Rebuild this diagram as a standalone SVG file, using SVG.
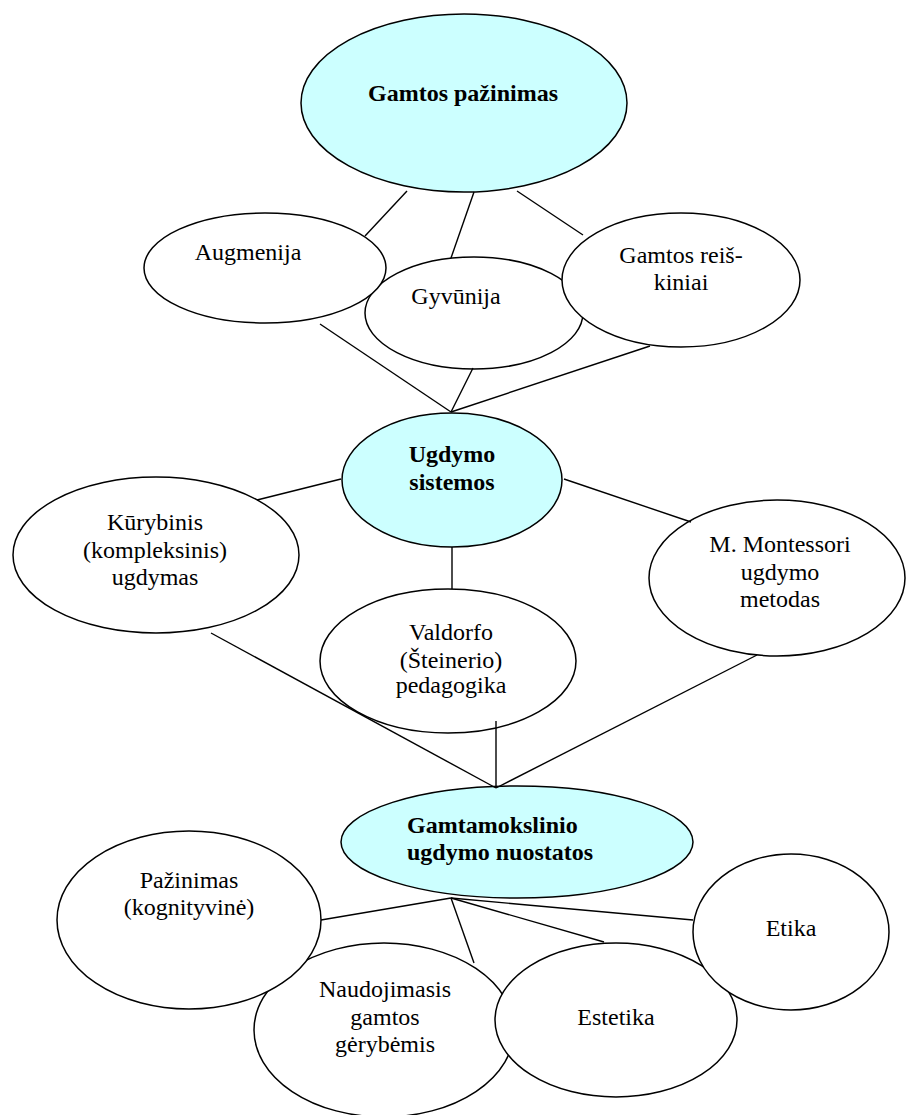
<svg xmlns="http://www.w3.org/2000/svg" width="906" height="1115" viewBox="0 0 906 1115">
<style>
.n{fill:#ffffff;stroke:#000;stroke-width:1.5}
.h{fill:#ccffff;stroke:#000;stroke-width:1.5}
.t{font-family:"Liberation Serif","Times New Roman",serif;font-size:24px;fill:#000;text-anchor:middle}
.b{font-weight:bold}
.c line{stroke:#000;stroke-width:1.4}
</style>
<rect width="906" height="1115" fill="#fff"/>
<g id="gamtos-pazinimas"><ellipse class="h" cx="464" cy="103" rx="163" ry="89"/><text class="t b" x="463" y="101">Gamtos pažinimas</text></g>
<g id="gyvunija"><ellipse class="n" cx="474" cy="313" rx="109" ry="56"/><text class="t" x="456" y="304">Gyvūnija</text></g>
<g id="augmenija"><ellipse class="n" cx="265" cy="268" rx="121" ry="55"/><text class="t" x="248" y="260">Augmenija</text></g>
<g id="gamtos-reiskiniai"><ellipse class="n" cx="681" cy="280" rx="119" ry="67"/><text class="t" x="681" y="263">Gamtos reiš-</text><text class="t" x="681" y="290">kiniai</text></g>
<g id="ugdymo-sistemos"><ellipse class="h" cx="452" cy="480" rx="110" ry="67"/><text class="t b" x="452" y="462">Ugdymo</text><text class="t b" x="452" y="490">sistemos</text></g>
<g id="kurybinis"><ellipse class="n" cx="156" cy="555" rx="143" ry="78"/><text class="t" x="155" y="530">Kūrybinis</text><text class="t" x="155" y="558">(kompleksinis)</text><text class="t" x="155" y="585">ugdymas</text></g>
<g id="montessori"><ellipse class="n" cx="777" cy="578" rx="128" ry="78"/><text class="t" x="780" y="552">M. Montessori</text><text class="t" x="780" y="580">ugdymo</text><text class="t" x="780" y="607">metodas</text></g>
<g id="valdorfo"><ellipse class="n" cx="448" cy="661" rx="128" ry="72"/><text class="t" x="451" y="640">Valdorfo</text><text class="t" x="451" y="668">(Šteinerio)</text><text class="t" x="451" y="693">pedagogika</text></g>
<g id="gamtamokslinio"><ellipse class="h" cx="517" cy="842" rx="176" ry="56"/><text class="t b" x="407" y="833" style="text-anchor:start">Gamtamokslinio</text><text class="t b" x="407" y="860" style="text-anchor:start">ugdymo nuostatos</text></g>
<g id="naudojimasis"><ellipse class="n" cx="384" cy="1030" rx="130" ry="87"/><text class="t" x="385" y="997">Naudojimasis</text><text class="t" x="385" y="1025">gamtos</text><text class="t" x="385" y="1052">gėrybėmis</text></g>
<g id="pazinimas"><ellipse class="n" cx="189" cy="920" rx="132" ry="89"/><text class="t" x="189" y="888">Pažinimas</text><text class="t" x="189" y="915">(kognityvinė)</text></g>
<g id="estetika"><ellipse class="n" cx="616" cy="1020" rx="121" ry="77"/><text class="t" x="616" y="1025">Estetika</text></g>
<g id="etika"><ellipse class="n" cx="791" cy="932" rx="98" ry="78"/><text class="t" x="791" y="936">Etika</text></g>
<g id="connectors" class="c">
<line x1="407" y1="191" x2="365" y2="236"/>
<line x1="474" y1="192" x2="451" y2="258"/>
<line x1="517" y1="191" x2="583" y2="235"/>
<line x1="320" y1="324" x2="451" y2="412"/>
<line x1="473" y1="368" x2="451" y2="412"/>
<line x1="650" y1="346" x2="451" y2="412"/>
<line x1="341" y1="479" x2="257" y2="500"/>
<line x1="564" y1="479" x2="691" y2="522"/>
<line x1="452" y1="547" x2="452" y2="589"/>
<line x1="211" y1="633" x2="496" y2="788"/>
<line x1="496" y1="721" x2="496" y2="788"/>
<line x1="757" y1="655" x2="496" y2="788"/>
<line x1="451" y1="898" x2="321" y2="920"/>
<line x1="451" y1="898" x2="474" y2="963"/>
<line x1="451" y1="898" x2="604" y2="942"/>
<line x1="451" y1="898" x2="693" y2="920"/>
</g>
</svg>
